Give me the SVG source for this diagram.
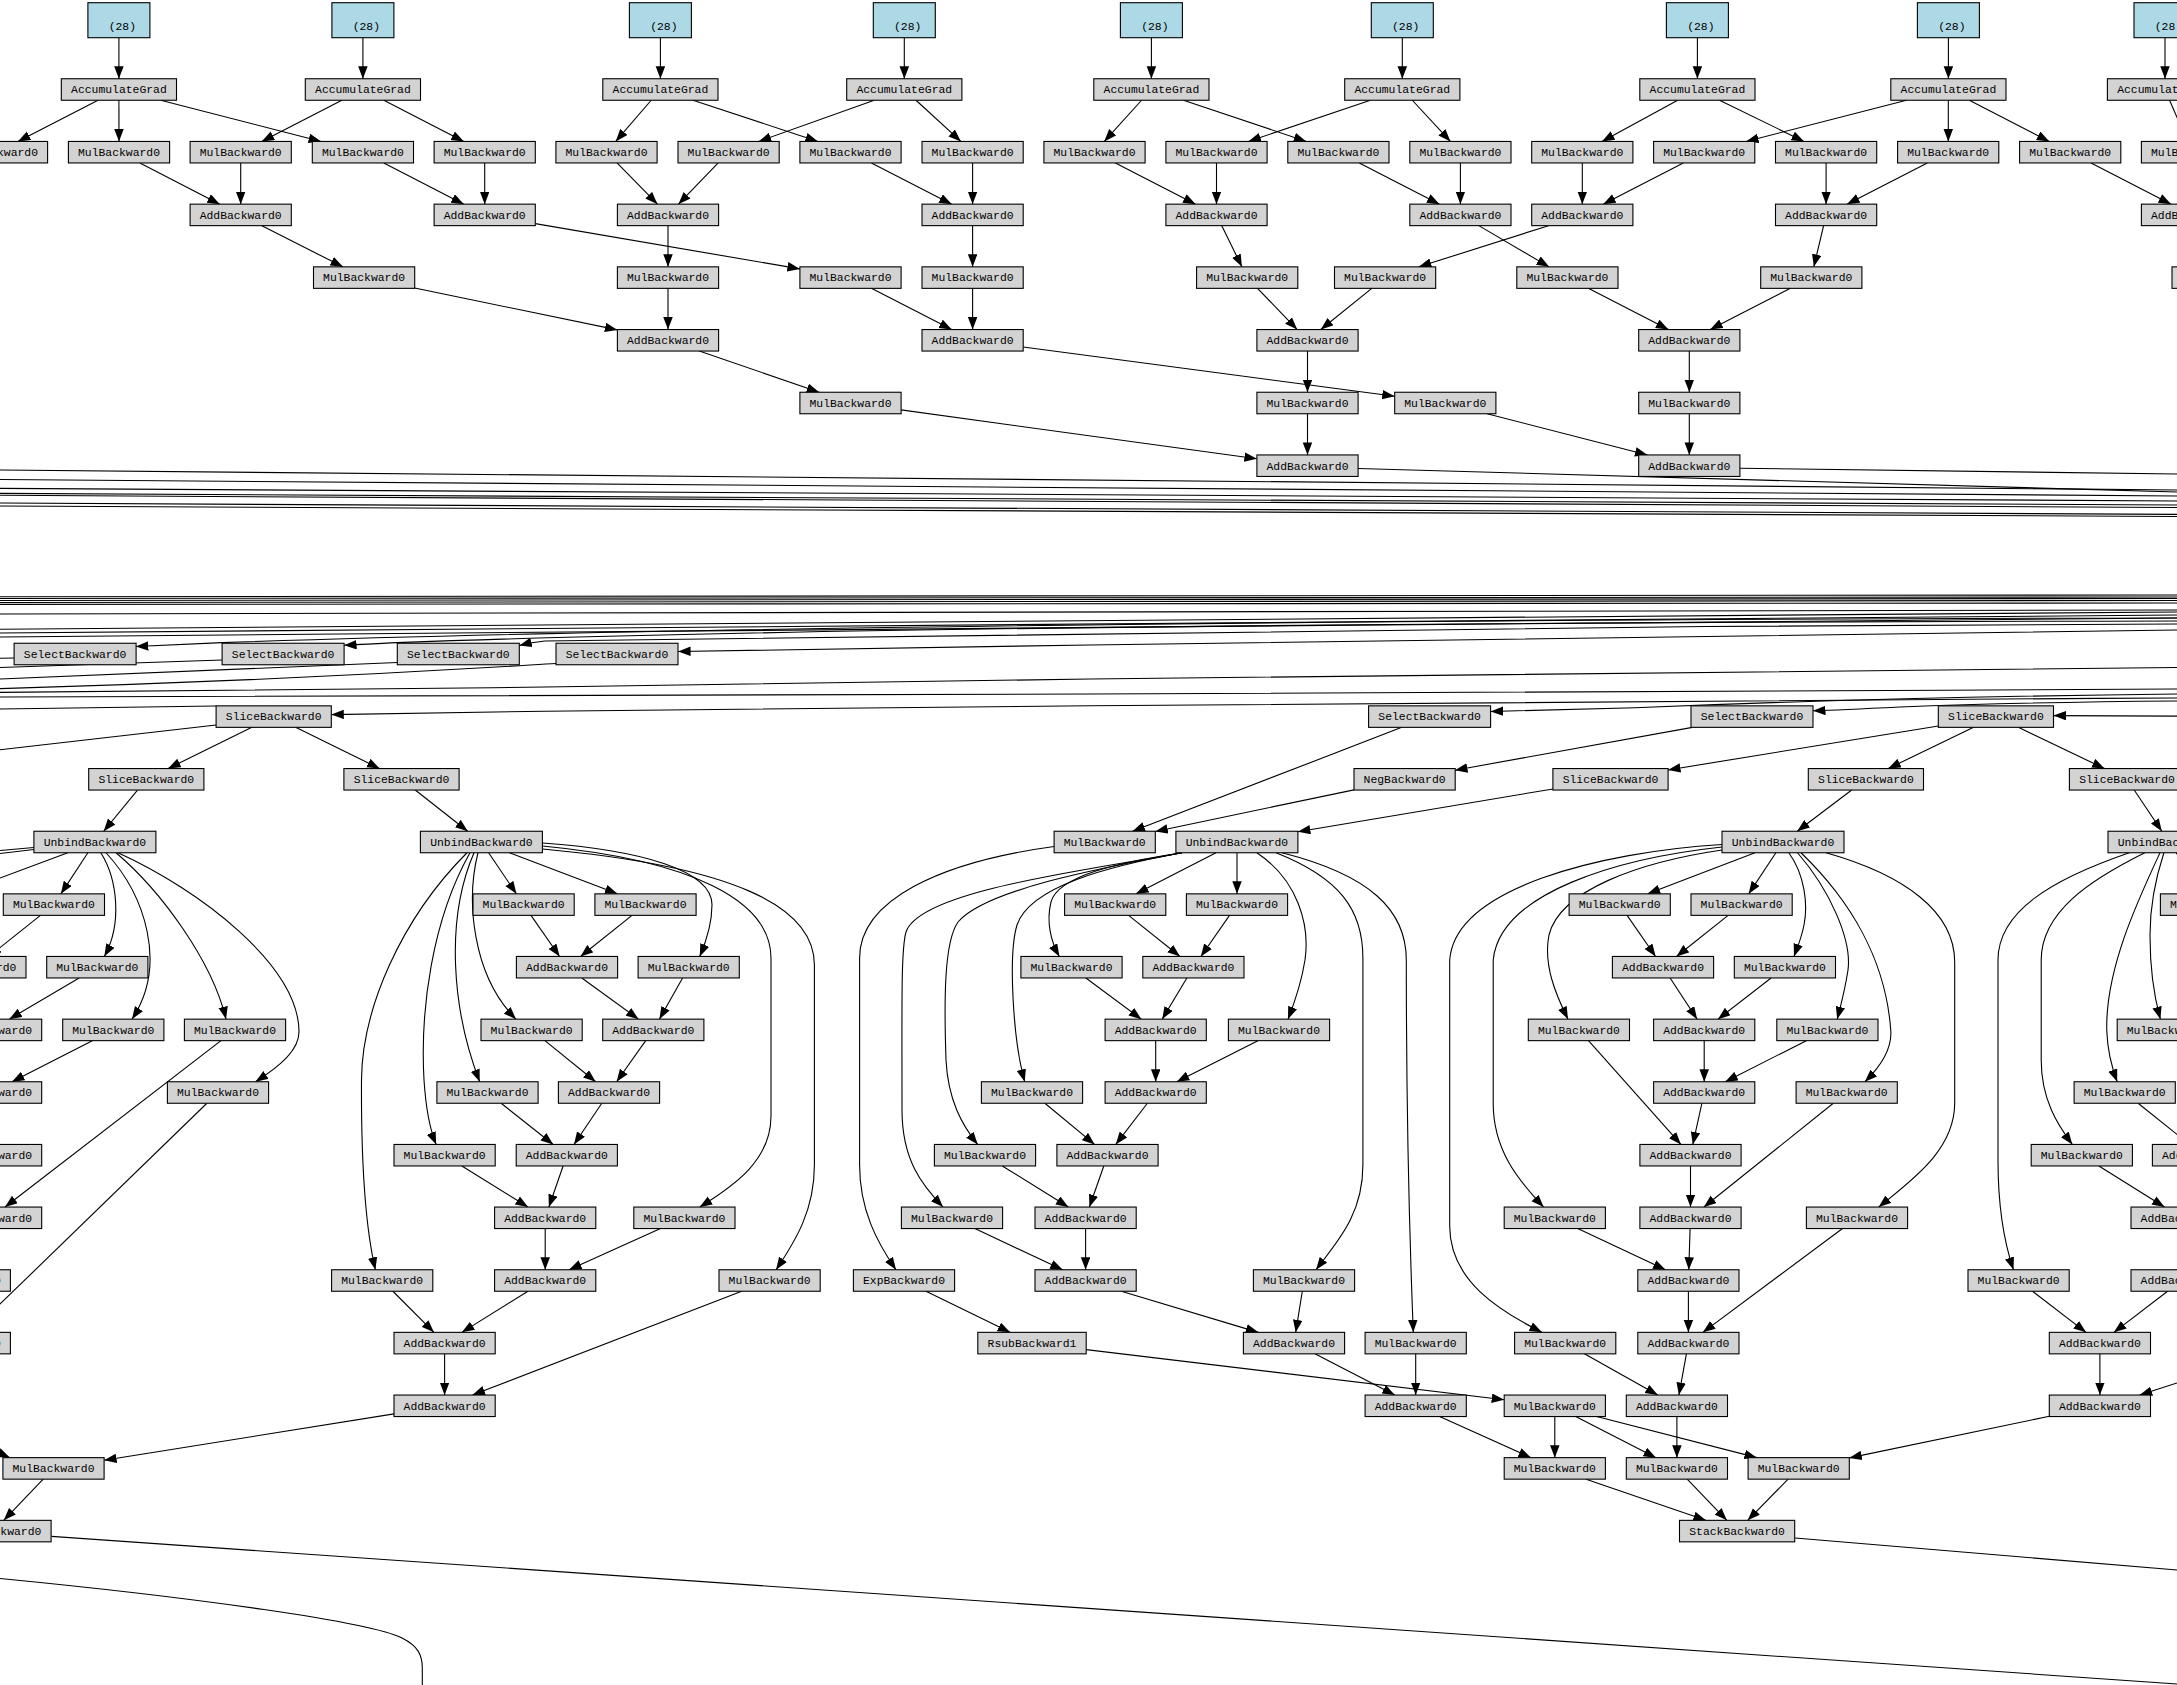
<svg xmlns="http://www.w3.org/2000/svg" width="2177" height="1685" viewBox="0 0 2177 1685">
<defs>
<marker id="ah" markerWidth="13" markerHeight="10" refX="12.5" refY="4.75" orient="auto" markerUnits="userSpaceOnUse"><path d="M0,0 L12.5,4.75 L0,9.5 z" fill="#000"/></marker>
<style>
.n rect{fill:#d3d3d3;stroke:#000;stroke-width:1.1}
.b rect{fill:#add8e6;stroke:#000;stroke-width:1.1}
text{font-family:"Liberation Mono","DejaVu Sans Mono",monospace;font-size:11.4px;text-anchor:middle;fill:#000}
#connectors path{fill:none;stroke:#000;stroke-width:1.1}
#arrowed path{marker-end:url(#ah)}
</style>
</defs>
<rect x="0" y="0" width="2177" height="1685" fill="#fff"/>
<g id="connectors">
<g id="plain">
<path d="M0,470 L2177,490"/>
<path d="M0,479.5 L2177,496"/>
<path d="M0,488.4 L2177,501"/>
<path d="M0,493.4 L2177,505"/>
<path d="M0,495.3 L2177,507.5"/>
<path d="M0,503 L2177,514.4"/>
<path d="M0,506 L2177,516.5"/>
<path d="M1358.1,468.5 L2177,492"/>
<path d="M1739.9,468.3 L2177,474"/>
<path d="M0,596.7 L2177,595"/>
<path d="M0,598.5 L2177,597"/>
<path d="M0,600.5 L2177,598.5"/>
<path d="M0,602.5 L2177,600.5"/>
<path d="M0,604.4 L2177,603"/>
<path d="M0,614 L2177,610"/>
<path d="M0,629.3 C700,627 1400,616 2177,612"/>
<path d="M0,633 C700,631 1400,619 2177,615"/>
<path d="M0,637 C700,635 1400,622 2177,618"/>
<path d="M14.1,658 L-10,658.5"/>
<path d="M222.1,660 L0,667.5"/>
<path d="M397.3,662.5 L0,679"/>
<path d="M556,663.5 C480,668 300,680 0,688.6"/>
<path d="M2177,667.5 C1700,671 1300,676 1090,679 C800,683 600,686 545,687 C350,690 150,691.5 0,692.4"/>
<path d="M2177,689 C1800,691 1400,693 1090,694 C800,695 500,696 0,697"/>
<path d="M216.1,706 L0,709"/>
<path d="M216.1,725 L0,749.8"/>
<path d="M33.9,847.5 L0,850.5"/>
<path d="M33.9,849.5 L0,853.5"/>
<path d="M67.8,852.75 L0,878"/>
<path d="M51.5,1536.4 L2177,1684"/>
<path d="M0,1578.5 C200,1598 370,1622 402,1638 C418,1646 422.3,1655 422.3,1668 L422.3,1685"/>
<path d="M1795.1,1538 L2177,1570"/>
</g>
<g id="arrowed">
<path d="M118.9,37.7 V78.75"/>
<path d="M362.9,37.7 V78.75"/>
<path d="M660.4,37.7 V78.75"/>
<path d="M904.3,37.7 V78.75"/>
<path d="M1151.4,37.7 V78.75"/>
<path d="M1402.3,37.7 V78.75"/>
<path d="M1697.4,37.7 V78.75"/>
<path d="M1948.4,37.7 V78.75"/>
<path d="M2165,37.7 V78.75"/>
<path d="M98,100.25 L17.9,141.45"/>
<path d="M118.9,100.25 L119,141.45"/>
<path d="M160.7,100.25 L321.1,141.45"/>
<path d="M341.9,100.25 L261.7,141.45"/>
<path d="M383.8,100.25 L463.8,141.45"/>
<path d="M651.2,100.25 L615.7,141.45"/>
<path d="M693,100.25 L817.9,141.45"/>
<path d="M874.2,100.25 L758.7,141.45"/>
<path d="M916,100.25 L960.9,141.45"/>
<path d="M1141.6,100.25 L1104.3,141.45"/>
<path d="M1183.5,100.25 L1306.3,141.45"/>
<path d="M1370.4,100.25 L1248.4,141.45"/>
<path d="M1412.3,100.25 L1450.4,141.45"/>
<path d="M1677.7,100.25 L1602,141.45"/>
<path d="M1719.5,100.25 L1804,141.45"/>
<path d="M1906.5,100.25 L1746.1,141.45"/>
<path d="M1948.3,100.25 L1948.3,141.45"/>
<path d="M1969.3,100.25 L2049.3,141.45"/>
<path d="M2169.6,100.25 L2187.4,141.45"/>
<path d="M139.9,162.95 L219.8,204.15"/>
<path d="M240.7,162.95 V204.15"/>
<path d="M383.8,162.95 L463.8,204.15"/>
<path d="M484.7,162.95 V204.15"/>
<path d="M617,162.95 L657.5,204.15"/>
<path d="M718.2,162.95 L678.4,204.15"/>
<path d="M871.4,162.95 L951.7,204.15"/>
<path d="M972.6,162.95 V204.15"/>
<path d="M1115.4,162.95 L1195.6,204.15"/>
<path d="M1216.5,162.95 V204.15"/>
<path d="M1359.3,162.95 L1439.5,204.15"/>
<path d="M1460.4,162.95 V204.15"/>
<path d="M1582.3,162.95 V204.15"/>
<path d="M1683.3,162.95 L1603.2,204.15"/>
<path d="M1826.1,162.95 V204.15"/>
<path d="M1927.3,162.95 L1847,204.15"/>
<path d="M2091.1,162.95 L2171.1,204.15"/>
<path d="M261.9,225.65 L342.9,266.85"/>
<path d="M535.3,223.6 L799.9,268.9"/>
<path d="M668,225.65 V266.85"/>
<path d="M972.6,225.65 V266.85"/>
<path d="M1221.8,225.65 L1241.9,266.85"/>
<path d="M1478.8,225.65 L1549.1,266.85"/>
<path d="M1548.5,225.65 L1418.9,266.85"/>
<path d="M1823.6,225.65 L1813.8,266.85"/>
<path d="M414.7,288 L617.4,329.9"/>
<path d="M668,288.35 V329.55"/>
<path d="M871.4,288.35 L951.7,329.55"/>
<path d="M972.6,288.35 V329.55"/>
<path d="M1257.5,288.35 L1297.2,329.55"/>
<path d="M1371.8,288.35 L1320.8,329.55"/>
<path d="M1588.3,288.35 L1668.4,329.55"/>
<path d="M1790.4,288.35 L1710.2,329.55"/>
<path d="M699.3,351.05 L819.2,392.25"/>
<path d="M1023.2,347 L1394.7,396.3"/>
<path d="M1307.5,351.05 V392.25"/>
<path d="M1689.3,351.05 V392.25"/>
<path d="M901.1,409.9 L1256.9,458.8"/>
<path d="M1307.5,413.75 V454.95"/>
<path d="M1487.1,413.75 L1647.5,454.95"/>
<path d="M1689.3,413.75 V454.95"/>
<path d="M2177,630 C1700,636 1300,641 1090,645 C900,648 780,650 678.1,651.5"/>
<path d="M2177,624 C1600,626 900,633 545,641 C535,642 527,643.5 519.3,645.5"/>
<path d="M2177,621 C1500,622 800,628 397,642.6 C380,643.3 360,644.5 344.1,645.3"/>
<path d="M2177,618 C1500,619 700,626 222,642.6 C190,643.8 160,645.5 135.9,646.5"/>
<path d="M2177,698 C1700,700 1200,704 1090,705.8 C800,708 600,710 545,711.2 L331.3,714.6"/>
<path d="M2177,694 C1900,697 1700,705 1635,707.7 C1580,709 1530,710.5 1490.6,711.5"/>
<path d="M2177,701 C2050,702 1950,705 1900,707 C1870,708.5 1840,710 1813,710.8"/>
<path d="M2177,716.1 L2053.5,715.6"/>
<path d="M251.9,727.35 L168.1,768.55"/>
<path d="M295.6,727.35 L379.6,768.55"/>
<path d="M137.5,790.05 L103.7,831.25"/>
<path d="M415.2,790.05 L467.7,831.25"/>
<path d="M1401.8,727.35 L1132.5,831.25"/>
<path d="M1354,789.84 L1155.3,831.42"/>
<path d="M1692.4,727.35 L1455,770.2"/>
<path d="M1938.4,725.96 L1668,769.94"/>
<path d="M1973.6,727.35 L1888.2,768.55"/>
<path d="M2018.4,727.35 L2104.5,768.55"/>
<path d="M1553,788.95 L1297.9,831.76"/>
<path d="M1851.7,790.05 L1797.2,831.25"/>
<path d="M2134.2,790.05 L2161.8,831.25"/>
<path d="M87.9,852.75 L60.9,893.85"/>
<path d="M100.8,852.75 C118,880 122,925 104.3,956.45"/>
<path d="M106,852.75 C145,895 168,965 132,1019.15"/>
<path d="M116,852.75 C160,890 212,960 226,1019.15"/>
<path d="M118,852.75 C200,890 298,965 299,1031 C299.5,1050 280,1066 255.5,1081.75"/>
<path d="M40.4,915.35 L-11.1,956.45"/>
<path d="M79.1,977.95 L9.3,1019.15"/>
<path d="M92.3,1040.65 L12,1081.75"/>
<path d="M221,1040.65 L5,1207.05"/>
<path d="M206.9,1103.25 L-29.1,1332.35"/>
<path d="M394,1413.9 L104.1,1460.3"/>
<path d="M-40,1436 L10,1457.65"/>
<path d="M43.2,1479.15 L3.8,1520.35"/>
<path d="M488.6,852.75 L516.4,893.85"/>
<path d="M509.5,852.75 L617.4,893.85"/>
<path d="M542.4,843 C640,850 712,870 712,904.8 C712,925 706,942 699.7,956.45"/>
<path d="M478,852.75 C466,900 472,975 516,1019.15"/>
<path d="M474,852.75 C445,920 452,1010 479.7,1081.75"/>
<path d="M470,852.75 C432,920 420,1010 424,1080 C426,1110 430,1130 436.2,1144.45"/>
<path d="M467,852.75 C400,920 362,1010 361.5,1080 C361,1170 366,1230 375.4,1269.75"/>
<path d="M542.4,846 C690,860 771,900 771,958 L771,1116 C771,1160 735,1185 699.7,1207.05"/>
<path d="M542.4,849 C730,866 814.4,905 814.4,965 L814.4,1165 C814.4,1210 796,1240 776.1,1269.75"/>
<path d="M531,915.35 L559.6,956.45"/>
<path d="M632,915.35 L580.5,956.45"/>
<path d="M581.8,977.95 L638.5,1019.15"/>
<path d="M682.6,977.95 L659.4,1019.15"/>
<path d="M544.9,1040.65 L595.7,1081.75"/>
<path d="M645.7,1040.65 L616.6,1081.75"/>
<path d="M501.1,1103.25 L553.2,1144.45"/>
<path d="M601.8,1103.25 L574,1144.45"/>
<path d="M461.9,1165.95 L528,1207.05"/>
<path d="M563.1,1165.95 L548.9,1207.05"/>
<path d="M545.2,1228.55 V1269.75"/>
<path d="M660.5,1228.55 L569.1,1269.75"/>
<path d="M392.9,1291.25 L433.9,1332.35"/>
<path d="M528,1291.25 L461.9,1332.35"/>
<path d="M741.7,1291.25 L472.5,1395.05"/>
<path d="M444.6,1353.85 V1395.05"/>
<path d="M1054.1,846.5 C940,862 859.6,900 859.6,958 L859.6,1165 C859.6,1210 877,1242 896,1269.75"/>
<path d="M1216,852.75 L1136.1,893.85"/>
<path d="M1237,852.75 V893.85"/>
<path d="M1256.8,852.75 C1298,880 1310,925 1305,960 C1301,985 1294,1004 1288,1019.15"/>
<path d="M1276,852.75 C1340,878 1362.9,910 1362.9,958 L1362.9,1165 C1362.9,1215 1337,1242 1316,1269.75"/>
<path d="M1282,852.75 C1370,875 1406.3,910 1406.3,960 C1406.3,1100 1410,1250 1413.3,1332.35"/>
<path d="M1182,852.75 C1120,862 1058,876 1051,902 C1046,922 1051,942 1059.4,956.45"/>
<path d="M1182,852.75 C1110,866 1030,886 1017,925 C1008,955 1013,1040 1024.7,1081.75"/>
<path d="M1182,852.75 C1100,868 985,890 958,922 C944,942 944,1000 946,1060 C948,1100 962,1125 977.7,1144.45"/>
<path d="M1182,852.75 C1090,870 920,890 906,932 C901,950 902,1000 902,1110 C902,1160 922,1185 943,1207.05"/>
<path d="M1128.6,915.35 L1180,956.45"/>
<path d="M1229.5,915.35 L1200.9,956.45"/>
<path d="M1085.9,977.95 L1141.3,1019.15"/>
<path d="M1186.9,977.95 L1162.2,1019.15"/>
<path d="M1155.7,1040.65 V1081.75"/>
<path d="M1257.9,1040.65 L1176.8,1081.75"/>
<path d="M1147.4,1103.25 L1115.8,1144.45"/>
<path d="M1044.9,1103.25 L1094.6,1144.45"/>
<path d="M1103.8,1165.95 L1089.4,1207.05"/>
<path d="M1002.3,1165.95 L1068.4,1207.05"/>
<path d="M1085.6,1228.55 V1269.75"/>
<path d="M974.9,1228.55 L1062.7,1269.75"/>
<path d="M926,1291.25 L1010.1,1332.35"/>
<path d="M1121.3,1291.25 L1258.3,1332.35"/>
<path d="M1302.3,1291.25 L1295.7,1332.35"/>
<path d="M1314.9,1353.85 L1394.8,1395.05"/>
<path d="M1415.7,1353.85 V1395.05"/>
<path d="M1086.2,1349.6 L1504.2,1399.7"/>
<path d="M1439.6,1416.55 L1531,1457.65"/>
<path d="M1554.8,1416.55 V1457.65"/>
<path d="M1575.7,1416.55 L1656,1457.65"/>
<path d="M1596.6,1416.55 L1756.9,1457.65"/>
<path d="M1586.1,1479.15 L1705.8,1520.35"/>
<path d="M1687.2,1479.15 L1726.8,1520.35"/>
<path d="M1788.1,1479.15 L1747.7,1520.35"/>
<path d="M2049.3,1416.3 L1849.3,1457.9"/>
<path d="M1755,852.75 L1647.7,893.85"/>
<path d="M1775.9,852.75 L1748.7,893.85"/>
<path d="M1788.8,852.75 C1805,875 1808,905 1804,925 C1801,940 1797,948 1794,956.45"/>
<path d="M1797.5,852.75 C1830,890 1852,940 1848,970 C1845,990 1841,1005 1837.2,1019.15"/>
<path d="M1801,852.75 C1850,900 1886,960 1890.8,1031 C1892,1050 1879,1068 1864.9,1081.75"/>
<path d="M1826,852.75 C1905,875 1954.7,912 1954.7,962 L1954.7,1103 C1954.7,1150 1912,1180 1878.7,1207.05"/>
<path d="M1722,850 C1640,862 1560,890 1549,935 C1543,965 1556,995 1568,1019.15"/>
<path d="M1722,847 C1620,858 1500,892 1493.2,960 L1493.2,1103 C1493.2,1150 1518,1180 1543.6,1207.05"/>
<path d="M1722,844.5 C1600,852 1455,888 1449.7,960 L1449.7,1226 C1449.7,1280 1498,1310 1541.9,1332.35"/>
<path d="M1627.1,915.35 L1655.6,956.45"/>
<path d="M1728.1,915.35 L1676.5,956.45"/>
<path d="M1670.1,977.95 L1697.1,1019.15"/>
<path d="M1771.1,977.95 L1718,1019.15"/>
<path d="M1704.2,1040.65 V1081.75"/>
<path d="M1806.3,1040.65 L1725.3,1081.75"/>
<path d="M1701.9,1103.25 L1692.8,1144.45"/>
<path d="M1588.5,1040.65 L1680.9,1144.45"/>
<path d="M1690.5,1165.95 V1207.05"/>
<path d="M1833.3,1103.25 L1703.9,1207.05"/>
<path d="M1690.1,1228.55 L1688.8,1269.75"/>
<path d="M1577.7,1228.55 L1665.5,1269.75"/>
<path d="M1688.4,1291.25 V1332.35"/>
<path d="M1842.5,1228.55 L1702.9,1332.35"/>
<path d="M1686.4,1353.85 L1678.9,1395.05"/>
<path d="M1584.4,1353.85 L1657.8,1395.05"/>
<path d="M1676.9,1416.55 V1457.65"/>
<path d="M2176.2,852.75 L2203.8,893.85"/>
<path d="M2163.9,852.75 C2155,880 2150,910 2150,935 C2150,970 2155,1000 2160.4,1019.15"/>
<path d="M2160,852.75 C2138,900 2105,970 2106.8,1031 C2107.5,1050 2112,1068 2117.2,1081.75"/>
<path d="M2144.8,852.75 C2090,880 2041.2,912 2041.2,960 L2041.2,1060 C2041.2,1100 2058,1125 2072.3,1144.45"/>
<path d="M2129.3,852.75 C2050,880 1998,912 1998,960 L1998,1160 C1998,1210 2005,1245 2013.5,1269.75"/>
<path d="M2138.1,1103.25 L2189.6,1144.45"/>
<path d="M2098.9,1165.95 L2164.5,1207.05"/>
<path d="M2032.5,1291.25 L2086,1332.35"/>
<path d="M2167.6,1291.25 L2113.9,1332.35"/>
<path d="M2099.9,1353.85 V1395.05"/>
<path d="M2177,1382.9 L2139.7,1395.05"/>
</g>
</g>
<g id="nodes">
<g id="p0" class="b"><rect x="87.9" y="2.7" width="62" height="35"/><text x="122.3" y="29.5">(28)</text></g>
<g id="p1" class="b"><rect x="331.9" y="2.7" width="62" height="35"/><text x="366.3" y="29.5">(28)</text></g>
<g id="p2" class="b"><rect x="629.4" y="2.7" width="62" height="35"/><text x="663.8" y="29.5">(28)</text></g>
<g id="p3" class="b"><rect x="873.3" y="2.7" width="62" height="35"/><text x="907.7" y="29.5">(28)</text></g>
<g id="p4" class="b"><rect x="1120.4" y="2.7" width="62" height="35"/><text x="1154.8" y="29.5">(28)</text></g>
<g id="p5" class="b"><rect x="1371.3" y="2.7" width="62" height="35"/><text x="1405.7" y="29.5">(28)</text></g>
<g id="p6" class="b"><rect x="1666.4" y="2.7" width="62" height="35"/><text x="1700.8" y="29.5">(28)</text></g>
<g id="p7" class="b"><rect x="1917.4" y="2.7" width="62" height="35"/><text x="1951.8" y="29.5">(28)</text></g>
<g id="p8" class="b"><rect x="2134" y="2.7" width="62" height="35"/><text x="2168.4" y="29.5">(28)</text></g>
<g id="ag0" class="n"><rect x="61.3" y="78.75" width="115.2" height="21.5"/><text x="118.9" y="93.3">AccumulateGrad</text></g>
<g id="ag1" class="n"><rect x="305.3" y="78.75" width="115.2" height="21.5"/><text x="362.9" y="93.3">AccumulateGrad</text></g>
<g id="ag2" class="n"><rect x="602.8" y="78.75" width="115.2" height="21.5"/><text x="660.4" y="93.3">AccumulateGrad</text></g>
<g id="ag3" class="n"><rect x="846.7" y="78.75" width="115.2" height="21.5"/><text x="904.3" y="93.3">AccumulateGrad</text></g>
<g id="ag4" class="n"><rect x="1093.8" y="78.75" width="115.2" height="21.5"/><text x="1151.4" y="93.3">AccumulateGrad</text></g>
<g id="ag5" class="n"><rect x="1344.7" y="78.75" width="115.2" height="21.5"/><text x="1402.3" y="93.3">AccumulateGrad</text></g>
<g id="ag6" class="n"><rect x="1639.8" y="78.75" width="115.2" height="21.5"/><text x="1697.4" y="93.3">AccumulateGrad</text></g>
<g id="ag7" class="n"><rect x="1890.8" y="78.75" width="115.2" height="21.5"/><text x="1948.4" y="93.3">AccumulateGrad</text></g>
<g id="ag8" class="n"><rect x="2107.4" y="78.75" width="115.2" height="21.5"/><text x="2165" y="93.3">AccumulateGrad</text></g>
<g id="t2a" class="n"><rect x="-53.6" y="141.45" width="101.2" height="21.5"/><text x="-3" y="156">MulBackward0</text></g>
<g id="t2b" class="n"><rect x="68.4" y="141.45" width="101.2" height="21.5"/><text x="119" y="156">MulBackward0</text></g>
<g id="t2c" class="n"><rect x="190.1" y="141.45" width="101.2" height="21.5"/><text x="240.7" y="156">MulBackward0</text></g>
<g id="t2d" class="n"><rect x="312.3" y="141.45" width="101.2" height="21.5"/><text x="362.9" y="156">MulBackward0</text></g>
<g id="t2e" class="n"><rect x="434.1" y="141.45" width="101.2" height="21.5"/><text x="484.7" y="156">MulBackward0</text></g>
<g id="t2f" class="n"><rect x="555.9" y="141.45" width="101.2" height="21.5"/><text x="606.5" y="156">MulBackward0</text></g>
<g id="t2g" class="n"><rect x="678" y="141.45" width="101.2" height="21.5"/><text x="728.6" y="156">MulBackward0</text></g>
<g id="t2h" class="n"><rect x="799.9" y="141.45" width="101.2" height="21.5"/><text x="850.5" y="156">MulBackward0</text></g>
<g id="t2i" class="n"><rect x="922" y="141.45" width="101.2" height="21.5"/><text x="972.6" y="156">MulBackward0</text></g>
<g id="t2j" class="n"><rect x="1043.9" y="141.45" width="101.2" height="21.5"/><text x="1094.5" y="156">MulBackward0</text></g>
<g id="t2k" class="n"><rect x="1165.9" y="141.45" width="101.2" height="21.5"/><text x="1216.5" y="156">MulBackward0</text></g>
<g id="t2l" class="n"><rect x="1287.8" y="141.45" width="101.2" height="21.5"/><text x="1338.4" y="156">MulBackward0</text></g>
<g id="t2m" class="n"><rect x="1409.8" y="141.45" width="101.2" height="21.5"/><text x="1460.4" y="156">MulBackward0</text></g>
<g id="t2n" class="n"><rect x="1531.7" y="141.45" width="101.2" height="21.5"/><text x="1582.3" y="156">MulBackward0</text></g>
<g id="t2o" class="n"><rect x="1653.6" y="141.45" width="101.2" height="21.5"/><text x="1704.2" y="156">MulBackward0</text></g>
<g id="t2p" class="n"><rect x="1775.5" y="141.45" width="101.2" height="21.5"/><text x="1826.1" y="156">MulBackward0</text></g>
<g id="t2q" class="n"><rect x="1897.6" y="141.45" width="101.2" height="21.5"/><text x="1948.2" y="156">MulBackward0</text></g>
<g id="t2r" class="n"><rect x="2019.6" y="141.45" width="101.2" height="21.5"/><text x="2070.2" y="156">MulBackward0</text></g>
<g id="t2s" class="n"><rect x="2141.4" y="141.45" width="101.2" height="21.5"/><text x="2192" y="156">MulBackward0</text></g>
<g id="t3a" class="n"><rect x="190.1" y="204.15" width="101.2" height="21.5"/><text x="240.7" y="218.7">AddBackward0</text></g>
<g id="t3b" class="n"><rect x="434.1" y="204.15" width="101.2" height="21.5"/><text x="484.7" y="218.7">AddBackward0</text></g>
<g id="t3c" class="n"><rect x="617.4" y="204.15" width="101.2" height="21.5"/><text x="668" y="218.7">AddBackward0</text></g>
<g id="t3d" class="n"><rect x="922" y="204.15" width="101.2" height="21.5"/><text x="972.6" y="218.7">AddBackward0</text></g>
<g id="t3e" class="n"><rect x="1165.9" y="204.15" width="101.2" height="21.5"/><text x="1216.5" y="218.7">AddBackward0</text></g>
<g id="t3f" class="n"><rect x="1409.8" y="204.15" width="101.2" height="21.5"/><text x="1460.4" y="218.7">AddBackward0</text></g>
<g id="t3g" class="n"><rect x="1531.7" y="204.15" width="101.2" height="21.5"/><text x="1582.3" y="218.7">AddBackward0</text></g>
<g id="t3h" class="n"><rect x="1775.5" y="204.15" width="101.2" height="21.5"/><text x="1826.1" y="218.7">AddBackward0</text></g>
<g id="t3i" class="n"><rect x="2141.4" y="204.15" width="101.2" height="21.5"/><text x="2192" y="218.7">AddBackward0</text></g>
<g id="t4a" class="n"><rect x="313.5" y="266.85" width="101.2" height="21.5"/><text x="364.1" y="281.4">MulBackward0</text></g>
<g id="t4b" class="n"><rect x="617.4" y="266.85" width="101.2" height="21.5"/><text x="668" y="281.4">MulBackward0</text></g>
<g id="t4c" class="n"><rect x="799.9" y="266.85" width="101.2" height="21.5"/><text x="850.5" y="281.4">MulBackward0</text></g>
<g id="t4d" class="n"><rect x="922" y="266.85" width="101.2" height="21.5"/><text x="972.6" y="281.4">MulBackward0</text></g>
<g id="t4e" class="n"><rect x="1196.6" y="266.85" width="101.2" height="21.5"/><text x="1247.2" y="281.4">MulBackward0</text></g>
<g id="t4f" class="n"><rect x="1334.5" y="266.85" width="101.2" height="21.5"/><text x="1385.1" y="281.4">MulBackward0</text></g>
<g id="t4g" class="n"><rect x="1516.8" y="266.85" width="101.2" height="21.5"/><text x="1567.4" y="281.4">MulBackward0</text></g>
<g id="t4h" class="n"><rect x="1760.7" y="266.85" width="101.2" height="21.5"/><text x="1811.3" y="281.4">MulBackward0</text></g>
<g id="t4i" class="n"><rect x="2172" y="266.85" width="101.2" height="21.5"/><text x="2222.6" y="281.4">MulBackward0</text></g>
<g id="t5a" class="n"><rect x="617.4" y="329.55" width="101.2" height="21.5"/><text x="668" y="344.1">AddBackward0</text></g>
<g id="t5b" class="n"><rect x="922" y="329.55" width="101.2" height="21.5"/><text x="972.6" y="344.1">AddBackward0</text></g>
<g id="t5c" class="n"><rect x="1256.9" y="329.55" width="101.2" height="21.5"/><text x="1307.5" y="344.1">AddBackward0</text></g>
<g id="t5d" class="n"><rect x="1638.7" y="329.55" width="101.2" height="21.5"/><text x="1689.3" y="344.1">AddBackward0</text></g>
<g id="t6a" class="n"><rect x="799.9" y="392.25" width="101.2" height="21.5"/><text x="850.5" y="406.8">MulBackward0</text></g>
<g id="t6b" class="n"><rect x="1256.9" y="392.25" width="101.2" height="21.5"/><text x="1307.5" y="406.8">MulBackward0</text></g>
<g id="t6c" class="n"><rect x="1394.7" y="392.25" width="101.2" height="21.5"/><text x="1445.3" y="406.8">MulBackward0</text></g>
<g id="t6d" class="n"><rect x="1638.7" y="392.25" width="101.2" height="21.5"/><text x="1689.3" y="406.8">MulBackward0</text></g>
<g id="t7a" class="n"><rect x="1256.9" y="454.95" width="101.2" height="21.5"/><text x="1307.5" y="469.5">AddBackward0</text></g>
<g id="t7b" class="n"><rect x="1638.7" y="454.95" width="101.2" height="21.5"/><text x="1689.3" y="469.5">AddBackward0</text></g>

<g id="sel0" class="n"><rect x="14.1" y="643.25" width="122" height="21.5"/><text x="75.1" y="657.8">SelectBackward0</text></g>
<g id="sel1" class="n"><rect x="222.1" y="643.25" width="122" height="21.5"/><text x="283.1" y="657.8">SelectBackward0</text></g>
<g id="sel2" class="n"><rect x="397.3" y="643.25" width="122" height="21.5"/><text x="458.3" y="657.8">SelectBackward0</text></g>
<g id="sel3" class="n"><rect x="556" y="643.25" width="122" height="21.5"/><text x="617" y="657.8">SelectBackward0</text></g>
<g id="sl0" class="n"><rect x="216.1" y="705.85" width="115.2" height="21.5"/><text x="273.7" y="720.4">SliceBackward0</text></g>
<g id="sel4" class="n"><rect x="1368.6" y="705.85" width="122" height="21.5"/><text x="1429.6" y="720.4">SelectBackward0</text></g>
<g id="sel5" class="n"><rect x="1691" y="705.85" width="122" height="21.5"/><text x="1752" y="720.4">SelectBackward0</text></g>
<g id="sl1" class="n"><rect x="1938.3" y="705.85" width="115.2" height="21.5"/><text x="1995.9" y="720.4">SliceBackward0</text></g>
<g id="sl2" class="n"><rect x="88.7" y="768.55" width="115.2" height="21.5"/><text x="146.3" y="783.1">SliceBackward0</text></g>
<g id="sl3" class="n"><rect x="343.9" y="768.55" width="115.2" height="21.5"/><text x="401.5" y="783.1">SliceBackward0</text></g>
<g id="neg" class="n"><rect x="1354" y="768.55" width="101.2" height="21.5"/><text x="1404.6" y="783.1">NegBackward0</text></g>
<g id="sl4" class="n"><rect x="1552.9" y="768.55" width="115.2" height="21.5"/><text x="1610.5" y="783.1">SliceBackward0</text></g>
<g id="sl5" class="n"><rect x="1808.3" y="768.55" width="115.2" height="21.5"/><text x="1865.9" y="783.1">SliceBackward0</text></g>
<g id="sl6" class="n"><rect x="2069.4" y="768.55" width="115.2" height="21.5"/><text x="2127" y="783.1">SliceBackward0</text></g>
<g id="ub0" class="n"><rect x="33.9" y="831.25" width="122" height="21.5"/><text x="94.9" y="845.8">UnbindBackward0</text></g>
<g id="ub1" class="n"><rect x="420.4" y="831.25" width="122" height="21.5"/><text x="481.4" y="845.8">UnbindBackward0</text></g>
<g id="mx" class="n"><rect x="1054.1" y="831.25" width="101.2" height="21.5"/><text x="1104.7" y="845.8">MulBackward0</text></g>
<g id="ub2" class="n"><rect x="1175.9" y="831.25" width="122" height="21.5"/><text x="1236.9" y="845.8">UnbindBackward0</text></g>
<g id="ub3" class="n"><rect x="1722" y="831.25" width="122" height="21.5"/><text x="1783" y="845.8">UnbindBackward0</text></g>
<g id="ub4" class="n"><rect x="2108" y="831.25" width="122" height="21.5"/><text x="2169" y="845.8">UnbindBackward0</text></g>

<g id="b4a" class="n"><rect x="3.3" y="893.85" width="101.2" height="21.5"/><text x="53.9" y="908.4">MulBackward0</text></g>
<g id="b4b" class="n"><rect x="473" y="893.85" width="101.2" height="21.5"/><text x="523.6" y="908.4">MulBackward0</text></g>
<g id="b4c" class="n"><rect x="594.9" y="893.85" width="101.2" height="21.5"/><text x="645.5" y="908.4">MulBackward0</text></g>
<g id="b4d" class="n"><rect x="1064.6" y="893.85" width="101.2" height="21.5"/><text x="1115.2" y="908.4">MulBackward0</text></g>
<g id="b4e" class="n"><rect x="1186.4" y="893.85" width="101.2" height="21.5"/><text x="1237" y="908.4">MulBackward0</text></g>
<g id="b4f" class="n"><rect x="1569.1" y="893.85" width="101.2" height="21.5"/><text x="1619.7" y="908.4">MulBackward0</text></g>
<g id="b4g" class="n"><rect x="1691" y="893.85" width="101.2" height="21.5"/><text x="1741.6" y="908.4">MulBackward0</text></g>
<g id="b4h" class="n"><rect x="2160.4" y="893.85" width="101.2" height="21.5"/><text x="2211" y="908.4">MulBackward0</text></g>

<g id="b5a" class="n"><rect x="-75.2" y="956.45" width="101.2" height="21.5"/><text x="-24.6" y="971">AddBackward0</text></g>
<g id="b5b" class="n"><rect x="46.7" y="956.45" width="101.2" height="21.5"/><text x="97.3" y="971">MulBackward0</text></g>
<g id="b5c" class="n"><rect x="516.4" y="956.45" width="101.2" height="21.5"/><text x="567" y="971">AddBackward0</text></g>
<g id="b5d" class="n"><rect x="638.1" y="956.45" width="101.2" height="21.5"/><text x="688.7" y="971">MulBackward0</text></g>
<g id="b5e" class="n"><rect x="1020.9" y="956.45" width="101.2" height="21.5"/><text x="1071.5" y="971">MulBackward0</text></g>
<g id="b5f" class="n"><rect x="1142.8" y="956.45" width="101.2" height="21.5"/><text x="1193.4" y="971">AddBackward0</text></g>
<g id="b5g" class="n"><rect x="1612.4" y="956.45" width="101.2" height="21.5"/><text x="1663" y="971">AddBackward0</text></g>
<g id="b5h" class="n"><rect x="1734.3" y="956.45" width="101.2" height="21.5"/><text x="1784.9" y="971">MulBackward0</text></g>

<g id="b6a" class="n"><rect x="-59.5" y="1019.15" width="101.2" height="21.5"/><text x="-8.9" y="1033.7">AddBackward0</text></g>
<g id="b6b" class="n"><rect x="62.7" y="1019.15" width="101.2" height="21.5"/><text x="113.3" y="1033.7">MulBackward0</text></g>
<g id="b6c" class="n"><rect x="184.4" y="1019.15" width="101.2" height="21.5"/><text x="235" y="1033.7">MulBackward0</text></g>
<g id="b6d" class="n"><rect x="481" y="1019.15" width="101.2" height="21.5"/><text x="531.6" y="1033.7">MulBackward0</text></g>
<g id="b6e" class="n"><rect x="602.7" y="1019.15" width="101.2" height="21.5"/><text x="653.3" y="1033.7">AddBackward0</text></g>
<g id="b6f" class="n"><rect x="1105.1" y="1019.15" width="101.2" height="21.5"/><text x="1155.7" y="1033.7">AddBackward0</text></g>
<g id="b6g" class="n"><rect x="1228.4" y="1019.15" width="101.2" height="21.5"/><text x="1279" y="1033.7">MulBackward0</text></g>
<g id="b6h" class="n"><rect x="1528.3" y="1019.15" width="101.2" height="21.5"/><text x="1578.9" y="1033.7">MulBackward0</text></g>
<g id="b6i" class="n"><rect x="1653.6" y="1019.15" width="101.2" height="21.5"/><text x="1704.2" y="1033.7">AddBackward0</text></g>
<g id="b6j" class="n"><rect x="1776.8" y="1019.15" width="101.2" height="21.5"/><text x="1827.4" y="1033.7">MulBackward0</text></g>
<g id="b6k" class="n"><rect x="2117.2" y="1019.15" width="101.2" height="21.5"/><text x="2167.8" y="1033.7">MulBackward0</text></g>

<g id="b7a" class="n"><rect x="-59.5" y="1081.75" width="101.2" height="21.5"/><text x="-8.9" y="1096.3">AddBackward0</text></g>
<g id="b7b" class="n"><rect x="167.4" y="1081.75" width="101.2" height="21.5"/><text x="218" y="1096.3">MulBackward0</text></g>
<g id="b7c" class="n"><rect x="436.9" y="1081.75" width="101.2" height="21.5"/><text x="487.5" y="1096.3">MulBackward0</text></g>
<g id="b7d" class="n"><rect x="558.4" y="1081.75" width="101.2" height="21.5"/><text x="609" y="1096.3">AddBackward0</text></g>
<g id="b7e" class="n"><rect x="981.4" y="1081.75" width="101.2" height="21.5"/><text x="1032" y="1096.3">MulBackward0</text></g>
<g id="b7f" class="n"><rect x="1105.1" y="1081.75" width="101.2" height="21.5"/><text x="1155.7" y="1096.3">AddBackward0</text></g>
<g id="b7g" class="n"><rect x="1653.6" y="1081.75" width="101.2" height="21.5"/><text x="1704.2" y="1096.3">AddBackward0</text></g>
<g id="b7h" class="n"><rect x="1796.1" y="1081.75" width="101.2" height="21.5"/><text x="1846.7" y="1096.3">MulBackward0</text></g>
<g id="b7i" class="n"><rect x="2074.1" y="1081.75" width="101.2" height="21.5"/><text x="2124.7" y="1096.3">MulBackward0</text></g>

<g id="b8a" class="n"><rect x="-59.5" y="1144.45" width="101.2" height="21.5"/><text x="-8.9" y="1159">AddBackward0</text></g>
<g id="b8b" class="n"><rect x="394" y="1144.45" width="101.2" height="21.5"/><text x="444.6" y="1159">MulBackward0</text></g>
<g id="b8c" class="n"><rect x="516.2" y="1144.45" width="101.2" height="21.5"/><text x="566.8" y="1159">AddBackward0</text></g>
<g id="b8d" class="n"><rect x="934.4" y="1144.45" width="101.2" height="21.5"/><text x="985" y="1159">MulBackward0</text></g>
<g id="b8e" class="n"><rect x="1056.9" y="1144.45" width="101.2" height="21.5"/><text x="1107.5" y="1159">AddBackward0</text></g>
<g id="b8f" class="n"><rect x="1639.9" y="1144.45" width="101.2" height="21.5"/><text x="1690.5" y="1159">AddBackward0</text></g>
<g id="b8g" class="n"><rect x="2031.2" y="1144.45" width="101.2" height="21.5"/><text x="2081.8" y="1159">MulBackward0</text></g>
<g id="b8h" class="n"><rect x="2152.4" y="1144.45" width="101.2" height="21.5"/><text x="2203" y="1159">AddBackward0</text></g>

<g id="b9a" class="n"><rect x="-59.5" y="1207.05" width="101.2" height="21.5"/><text x="-8.9" y="1221.6">AddBackward0</text></g>
<g id="b9b" class="n"><rect x="494.6" y="1207.05" width="101.2" height="21.5"/><text x="545.2" y="1221.6">AddBackward0</text></g>
<g id="b9c" class="n"><rect x="633.8" y="1207.05" width="101.2" height="21.5"/><text x="684.4" y="1221.6">MulBackward0</text></g>
<g id="b9d" class="n"><rect x="901.4" y="1207.05" width="101.2" height="21.5"/><text x="952" y="1221.6">MulBackward0</text></g>
<g id="b9e" class="n"><rect x="1035" y="1207.05" width="101.2" height="21.5"/><text x="1085.6" y="1221.6">AddBackward0</text></g>
<g id="b9f" class="n"><rect x="1504.2" y="1207.05" width="101.2" height="21.5"/><text x="1554.8" y="1221.6">MulBackward0</text></g>
<g id="b9g" class="n"><rect x="1639.9" y="1207.05" width="101.2" height="21.5"/><text x="1690.5" y="1221.6">AddBackward0</text></g>
<g id="b9h" class="n"><rect x="1806.4" y="1207.05" width="101.2" height="21.5"/><text x="1857" y="1221.6">MulBackward0</text></g>
<g id="b9i" class="n"><rect x="2131" y="1207.05" width="101.2" height="21.5"/><text x="2181.6" y="1221.6">AddBackward0</text></g>

<g id="b10a" class="n"><rect x="-90.8" y="1269.75" width="101.2" height="21.5"/><text x="-40.2" y="1284.3">AddBackward0</text></g>
<g id="b10b" class="n"><rect x="331.6" y="1269.75" width="101.2" height="21.5"/><text x="382.2" y="1284.3">MulBackward0</text></g>
<g id="b10c" class="n"><rect x="494.6" y="1269.75" width="101.2" height="21.5"/><text x="545.2" y="1284.3">AddBackward0</text></g>
<g id="b10d" class="n"><rect x="719" y="1269.75" width="101.2" height="21.5"/><text x="769.6" y="1284.3">MulBackward0</text></g>
<g id="exp" class="n"><rect x="853.4" y="1269.75" width="101.2" height="21.5"/><text x="904" y="1284.3">ExpBackward0</text></g>
<g id="b10e" class="n"><rect x="1035" y="1269.75" width="101.2" height="21.5"/><text x="1085.6" y="1284.3">AddBackward0</text></g>
<g id="b10f" class="n"><rect x="1253.4" y="1269.75" width="101.2" height="21.5"/><text x="1304" y="1284.3">MulBackward0</text></g>
<g id="b10g" class="n"><rect x="1637.8" y="1269.75" width="101.2" height="21.5"/><text x="1688.4" y="1284.3">AddBackward0</text></g>
<g id="b10h" class="n"><rect x="1968" y="1269.75" width="101.2" height="21.5"/><text x="2018.6" y="1284.3">MulBackward0</text></g>
<g id="b10i" class="n"><rect x="2131" y="1269.75" width="101.2" height="21.5"/><text x="2181.6" y="1284.3">AddBackward0</text></g>

<g id="b11a" class="n"><rect x="-90.8" y="1332.35" width="101.2" height="21.5"/><text x="-40.2" y="1346.9">AddBackward0</text></g>
<g id="b11b" class="n"><rect x="394" y="1332.35" width="101.2" height="21.5"/><text x="444.6" y="1346.9">AddBackward0</text></g>
<g id="rsub" class="n"><rect x="977.8" y="1332.35" width="108.4" height="21.5"/><text x="1032" y="1346.9">RsubBackward1</text></g>
<g id="b11c" class="n"><rect x="1243.4" y="1332.35" width="101.2" height="21.5"/><text x="1294" y="1346.9">AddBackward0</text></g>
<g id="b11d" class="n"><rect x="1365.1" y="1332.35" width="101.2" height="21.5"/><text x="1415.7" y="1346.9">MulBackward0</text></g>
<g id="b11e" class="n"><rect x="1514.6" y="1332.35" width="101.2" height="21.5"/><text x="1565.2" y="1346.9">MulBackward0</text></g>
<g id="b11f" class="n"><rect x="1637.8" y="1332.35" width="101.2" height="21.5"/><text x="1688.4" y="1346.9">AddBackward0</text></g>
<g id="b11g" class="n"><rect x="2049.3" y="1332.35" width="101.2" height="21.5"/><text x="2099.9" y="1346.9">AddBackward0</text></g>

<g id="b12a" class="n"><rect x="394" y="1395.05" width="101.2" height="21.5"/><text x="444.6" y="1409.6">AddBackward0</text></g>
<g id="b12b" class="n"><rect x="1365.1" y="1395.05" width="101.2" height="21.5"/><text x="1415.7" y="1409.6">AddBackward0</text></g>
<g id="b12c" class="n"><rect x="1504.2" y="1395.05" width="101.2" height="21.5"/><text x="1554.8" y="1409.6">MulBackward0</text></g>
<g id="b12d" class="n"><rect x="1626.3" y="1395.05" width="101.2" height="21.5"/><text x="1676.9" y="1409.6">AddBackward0</text></g>
<g id="b12e" class="n"><rect x="2049.3" y="1395.05" width="101.2" height="21.5"/><text x="2099.9" y="1409.6">AddBackward0</text></g>

<g id="b13a" class="n"><rect x="2.9" y="1457.65" width="101.2" height="21.5"/><text x="53.5" y="1472.2">MulBackward0</text></g>
<g id="b13b" class="n"><rect x="1504.2" y="1457.65" width="101.2" height="21.5"/><text x="1554.8" y="1472.2">MulBackward0</text></g>
<g id="b13c" class="n"><rect x="1626.3" y="1457.65" width="101.2" height="21.5"/><text x="1676.9" y="1472.2">MulBackward0</text></g>
<g id="b13d" class="n"><rect x="1748.1" y="1457.65" width="101.2" height="21.5"/><text x="1798.7" y="1472.2">MulBackward0</text></g>

<g id="st0" class="n"><rect x="-64.1" y="1520.35" width="115.2" height="21.5"/><text x="-6.5" y="1534.9">StackBackward0</text></g>
<g id="st1" class="n"><rect x="1679.5" y="1520.35" width="115.2" height="21.5"/><text x="1737.1" y="1534.9">StackBackward0</text></g>
</g>
</svg>
